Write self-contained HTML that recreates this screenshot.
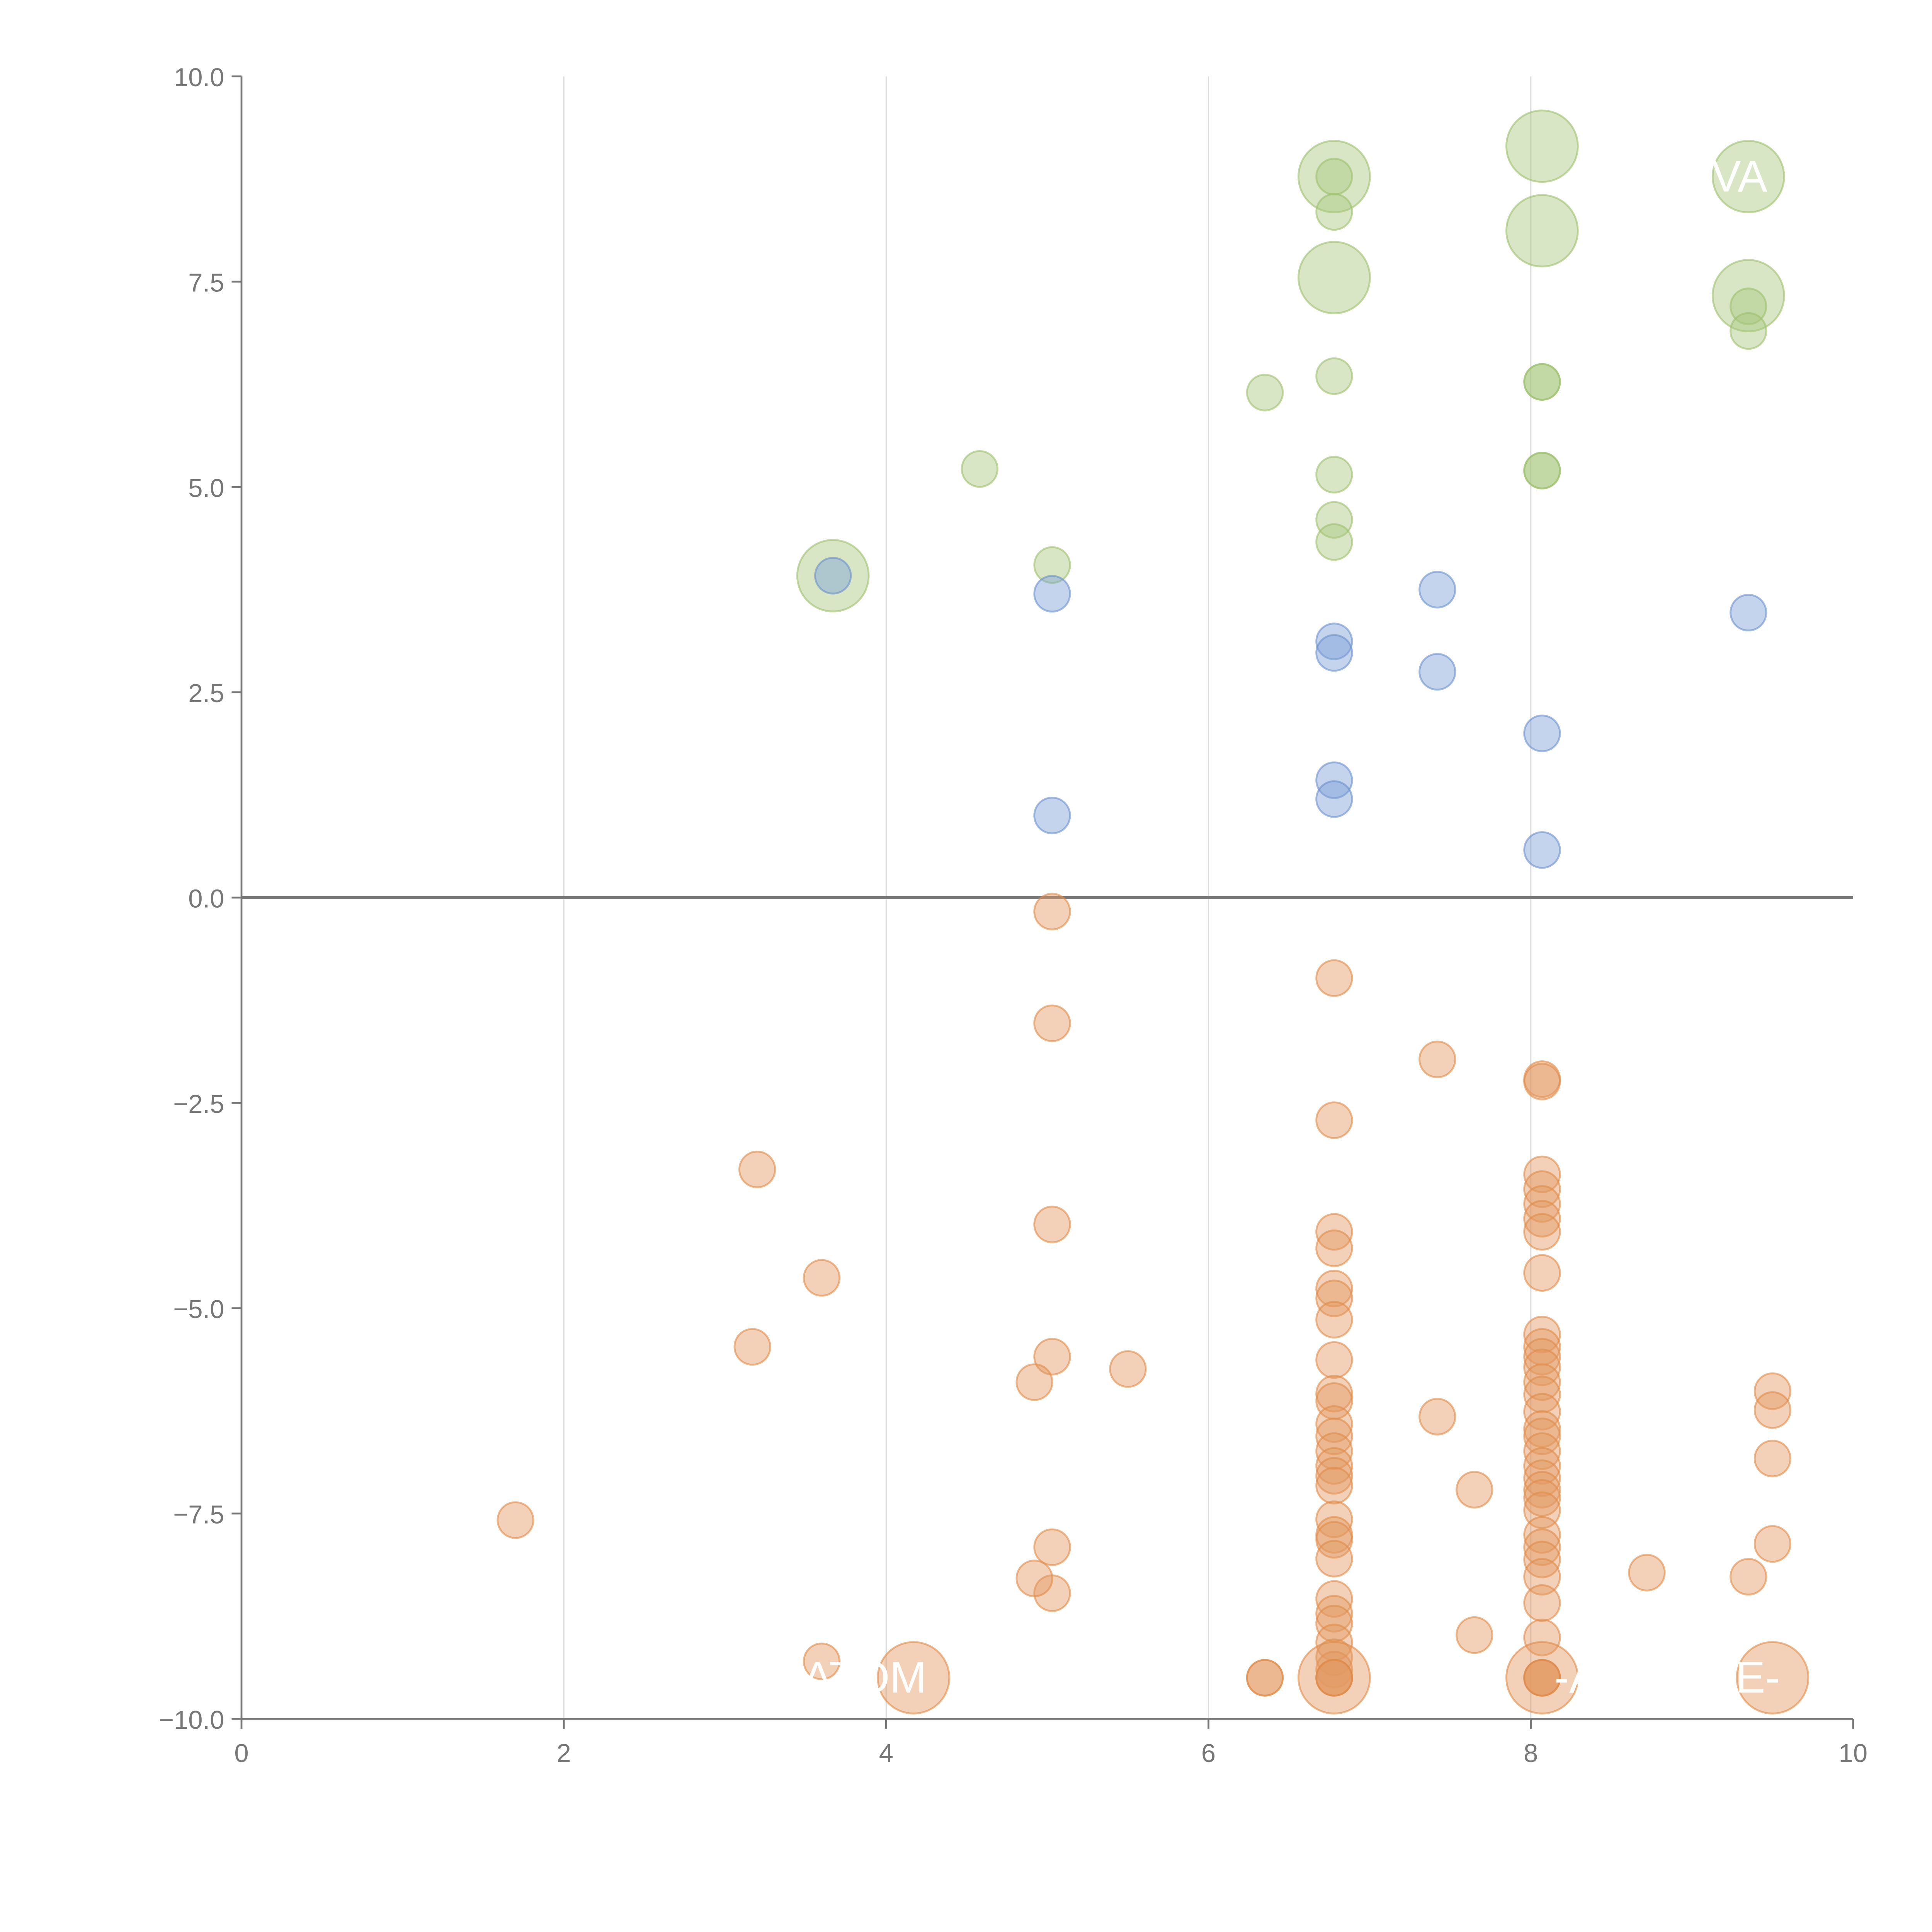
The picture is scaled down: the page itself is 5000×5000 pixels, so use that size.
<!DOCTYPE html>
<html><head><meta charset="utf-8"><style>
html,body{margin:0;padding:0;background:#fff;}
svg{display:block;}
text{font-family:"Liberation Sans",sans-serif;}
</style></head><body>
<svg id="chart" width="5000" height="5000" viewBox="0 0 1568 1568" xmlns="http://www.w3.org/2000/svg">
<g id="grid"></g>
<g id="axes"></g>
<g id="marks"></g>
<g id="labels"></g>
</svg>
<script>
const xTicks=[0,2,4,6,8,10];
const yTicks=[10,7.5,5,2.5,0,-2.5,-5,-7.5,-10];
const greenX=[6.78,6.78,6.78,6.78,8.07,8.07,9.35,9.35,9.35,9.35,6.35,6.78,8.07,8.07,4.58,6.78,8.07,8.07,6.78,6.78,5.03,3.67];
const greenY=[8.78,8.78,8.35,7.55,9.15,8.12,8.78,7.33,7.2,6.9,6.15,6.35,6.28,6.28,5.22,5.15,5.2,5.2,4.6,4.33,4.05,3.92];
const greenBig=[1,0,0,1,1,1,1,1,0,0,0,0,0,0,0,0,0,0,0,0,0,1];
const blueX=[3.67,5.03,7.42,6.78,6.78,7.42,9.35,8.07,6.78,6.78,5.03,8.07];
const blueY=[3.92,3.7,3.75,3.12,2.98,2.75,3.47,2.0,1.43,1.2,1.0,0.58];
const orangeX=[5.03,5.03,5.03,5.03,5.03,5.03,4.92,4.92,5.5,3.2,3.6,3.6,3.17,1.7,
6.78,6.78,6.78,6.78,6.78,6.78,6.78,6.78,6.78,6.78,6.78,6.78,6.78,6.78,6.78,6.78,6.78,6.78,6.78,6.78,6.78,6.78,6.78,6.78,6.78,6.78,6.78,
7.42,7.42,7.65,7.65,
8.07,8.07,8.07,8.07,8.07,8.07,8.07,8.07,8.07,8.07,8.07,8.07,8.07,8.07,8.07,8.07,8.07,8.07,8.07,8.07,8.07,8.07,8.07,8.07,8.07,8.07,8.07,8.07,8.07,8.07,
8.72,9.5,9.5,9.5,9.5,9.35,6.35,6.35,4.17,6.78,8.07,9.5,6.78,6.78,8.07,8.07];
const orangeY=[-0.17,-1.53,-3.98,-5.59,-7.91,-8.47,-5.9,-8.29,-5.74,-3.31,-4.63,-9.3,-5.47,-7.58,
-0.98,-2.71,-4.07,-4.27,-4.76,-4.88,-5.14,-5.63,-6.04,-6.13,-6.41,-6.56,-6.74,-6.92,-7.04,-7.16,-7.57,-7.76,-7.82,-8.05,-8.54,-8.72,-8.84,-9.07,-9.25,-9.4,-9.5,
-1.97,-6.32,-7.21,-8.98,
-2.21,-2.24,-3.37,-3.55,-3.73,-3.91,-4.07,-4.57,-5.32,-5.47,-5.59,-5.72,-5.9,-6.05,-6.26,-6.47,-6.56,-6.74,-6.92,-7.07,-7.21,-7.31,-7.46,-7.76,-7.91,-8.06,-8.27,-8.59,-9.01,-9.5,
-8.22,-6.01,-6.24,-6.83,-7.87,-8.27,-9.5,-9.5,-9.5,-9.5,-9.5,-9.5,-9.5,-9.5,-9.5,-9.5];
const orangeBig=[0,0,0,0,0,0,0,0,0,0,0,0,0,0,
0,0,0,0,0,0,0,0,0,0,0,0,0,0,0,0,0,0,0,0,0,0,0,0,0,0,0,
0,0,0,0,
0,0,0,0,0,0,0,0,0,0,0,0,0,0,0,0,0,0,0,0,0,0,0,0,0,0,0,0,0,0,
0,0,0,0,0,0,0,0,1,1,1,1,0,0,0,0];

const NS='http://www.w3.org/2000/svg';
const X0=196,X1=1504,Y0=1395,Y1=62;
const sx=v=>X0+(v-0)/(10-0)*(X1-X0);
const sy=v=>Y0-(v+10)/20*(Y0-Y1);
function mk(tag,attrs,parent){const e=document.createElementNS(NS,tag);for(const k in attrs)e.setAttribute(k,attrs[k]);parent.appendChild(e);return e;}
const grid=document.getElementById('grid'),axes=document.getElementById('axes'),marks=document.getElementById('marks');
xTicks.forEach(t=>{
  if(t>0&&t<10){const g=mk('line',{x1:sx(t),x2:sx(t),y1:Y1,y2:Y0,stroke:'#dddddd','stroke-width':1},grid);
  
  }
  const tk=mk('line',{x1:sx(t),x2:sx(t),y1:Y0,y2:Y0+8,stroke:'#777','stroke-width':1.5},axes);
  
  
  const tl=mk('text',{x:sx(t),y:Y0+35,'text-anchor':'middle','font-size':21,fill:'#777'},axes);
  tl.textContent=String(t);
  
  
});
yTicks.forEach(t=>{
  const tk=mk('line',{x1:X0-8,x2:X0,y1:sy(t),y2:sy(t),stroke:'#777','stroke-width':1.5},axes);
  
  
  const tl=mk('text',{x:X0-14,y:sy(t)+8,'text-anchor':'end','font-size':21,fill:'#777'},axes);
  tl.textContent=(t<0?'\u2212':'')+Math.abs(t).toFixed(1);
  
  
});
const ys=mk('line',{x1:X0,x2:X0,y1:Y1,y2:Y0,stroke:'#777','stroke-width':1.5},axes);


const xs=mk('line',{x1:X0,x2:X1,y1:Y0,y2:Y0,stroke:'#777','stroke-width':1.5},axes);


const zl=mk('line',{x1:X0,x2:X1,y1:sy(0),y2:sy(0),stroke:'#777','stroke-width':2.5},axes);



function series(xsA,ysA,bigA,fill,stroke,name){
  xsA.forEach((x,i)=>{
    const c=mk('circle',{cx:sx(x),cy:sy(ysA[i]),r:(bigA&&bigA[i])?29:14.5,fill:fill,'fill-opacity':0.45,stroke:stroke,'stroke-opacity':0.6,'stroke-width':1.5},marks);
    
    
  });
}
series(orangeX,orangeY,orangeBig,'#e29a62','#e08a48','orange-point');
series(greenX,greenY,greenBig,'#a9c77f','#9cbf6c','green-point');
series(blueX,blueY,null,'#7da0d6','#6b90cc','blue-point');

const labels=document.getElementById('labels');
[[4.17,-9.5,'ATOM',-90],[8.07,-9.5,'-A',10],[9.5,-9.5,'E-',-30],[9.35,8.78,'VA',-30]].forEach(l=>{
  const t=mk('text',{x:sx(l[0])+l[3],y:sy(l[1])+12,'font-size':36,fill:'#fff'},labels);
  t.textContent=l[2];
  
  
});
</script>
</body></html>
